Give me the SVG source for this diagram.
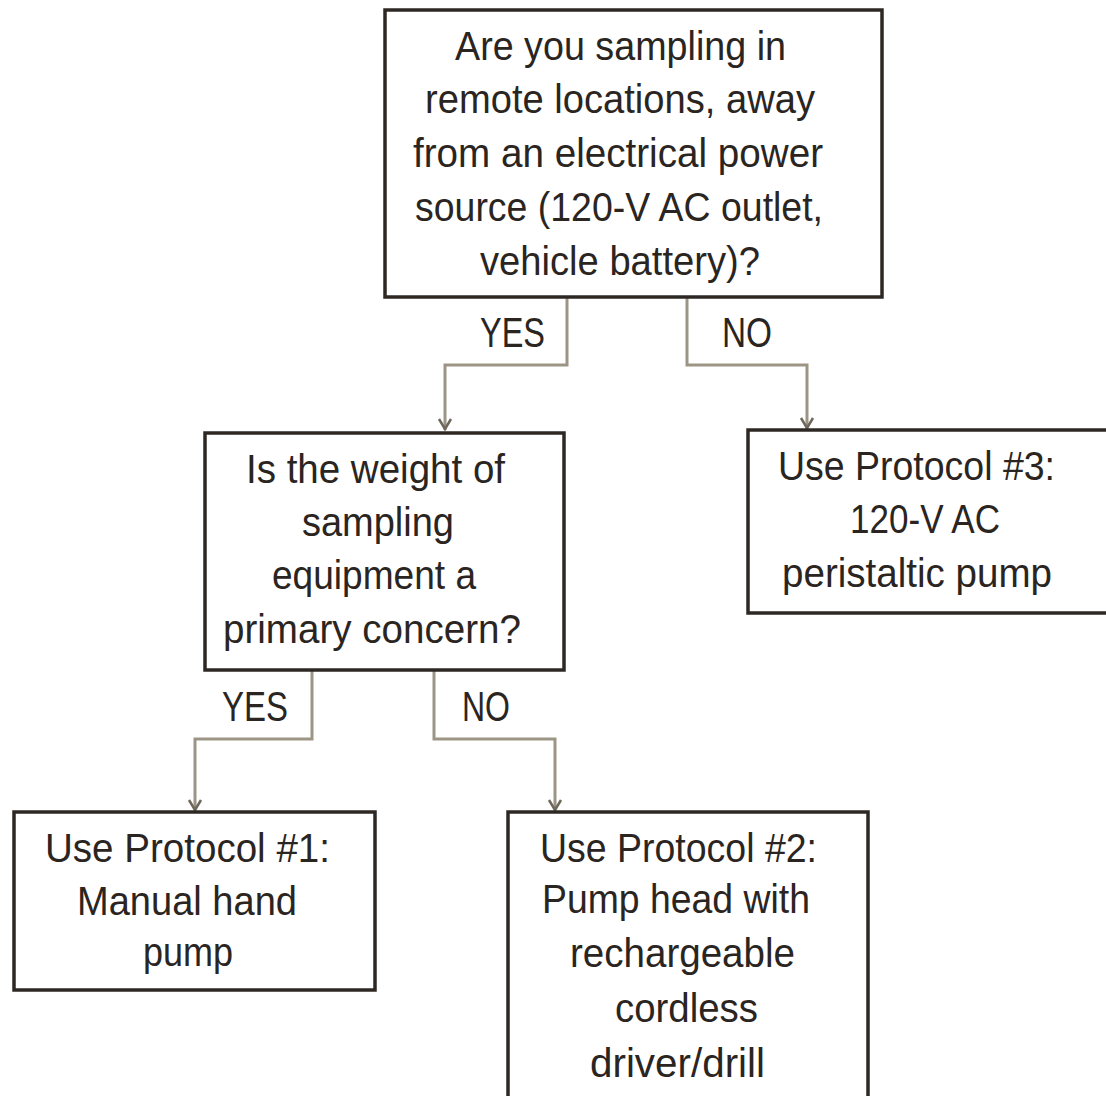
<svg xmlns="http://www.w3.org/2000/svg" width="1106" height="1096" viewBox="0 0 1106 1096">
  <style>
    .box { fill: #ffffff; stroke: #2e2825; stroke-width: 3.5; }
    .t { font-family: "Liberation Sans", Arial, sans-serif; font-size: 41px; fill: #2b2522; }
    .lbl { font-family: "Liberation Sans", Arial, sans-serif; font-size: 42px; fill: #2b2522; }
    .wire { fill: none; stroke: #9c9585; stroke-width: 3; marker-end: url(#arrow); }
  </style>
  <defs>
    <marker id="arrow" markerUnits="userSpaceOnUse" viewBox="-13 -8 15 16" refX="0" refY="0" markerWidth="15" markerHeight="16" orient="auto">
      <path d="M-11,-6 L-1,0 L-11,6" fill="none" stroke="#6e685c" stroke-width="2.5"/>
    </marker>
  </defs>
  <rect width="1106" height="1096" fill="#ffffff"/>

  <!-- connectors -->
  <g id="connectors">
    <path class="wire" d="M567,297 V365 H445 V430"/>
    <path class="wire" d="M687,297 V365 H807 V429"/>
    <path class="wire" d="M312,670 V739 H195 V811"/>
    <path class="wire" d="M434,670 V739 H555 V811"/>
    <text class="lbl" x="480" y="347" textLength="65" lengthAdjust="spacingAndGlyphs">YES</text>
    <text class="lbl" x="722" y="347" textLength="50" lengthAdjust="spacingAndGlyphs">NO</text>
    <text class="lbl" x="222" y="721" textLength="66" lengthAdjust="spacingAndGlyphs">YES</text>
    <text class="lbl" x="462" y="721" textLength="48" lengthAdjust="spacingAndGlyphs">NO</text>
  </g>

  <!-- question: remote locations -->
  <g id="q-remote">
    <rect class="box" x="385" y="10" width="497" height="287"/>
    <text class="t" x="455" y="60" textLength="331" lengthAdjust="spacingAndGlyphs">Are you sampling in</text>
    <text class="t" x="425" y="113" textLength="390" lengthAdjust="spacingAndGlyphs">remote locations, away</text>
    <text class="t" x="413" y="167" textLength="410" lengthAdjust="spacingAndGlyphs">from an electrical power</text>
    <text class="t" x="415" y="221" textLength="408" lengthAdjust="spacingAndGlyphs">source (120-V AC outlet,</text>
    <text class="t" x="480" y="275" textLength="280" lengthAdjust="spacingAndGlyphs">vehicle battery)?</text>
  </g>

  <!-- question: equipment weight -->
  <g id="q-weight">
    <rect class="box" x="205" y="433" width="359" height="237"/>
    <text class="t" x="246" y="483" textLength="259" lengthAdjust="spacingAndGlyphs">Is the weight of</text>
    <text class="t" x="302" y="536" textLength="152" lengthAdjust="spacingAndGlyphs">sampling</text>
    <text class="t" x="272" y="589" textLength="204" lengthAdjust="spacingAndGlyphs">equipment a</text>
    <text class="t" x="223" y="643" textLength="298" lengthAdjust="spacingAndGlyphs">primary concern?</text>
  </g>

  <!-- protocol 3 -->
  <g id="protocol-3">
    <rect class="box" x="748" y="430" width="380" height="183"/>
    <text class="t" x="778" y="480" textLength="277" lengthAdjust="spacingAndGlyphs">Use Protocol #3:</text>
    <text class="t" x="850" y="533" textLength="150" lengthAdjust="spacingAndGlyphs">120-V AC</text>
    <text class="t" x="782" y="587" textLength="270" lengthAdjust="spacingAndGlyphs">peristaltic pump</text>
  </g>

  <!-- protocol 1 -->
  <g id="protocol-1">
    <rect class="box" x="14" y="812" width="361" height="178"/>
    <text class="t" x="45" y="862" textLength="285" lengthAdjust="spacingAndGlyphs">Use Protocol #1:</text>
    <text class="t" x="77" y="915" textLength="220" lengthAdjust="spacingAndGlyphs">Manual hand</text>
    <text class="t" x="143" y="966" textLength="90" lengthAdjust="spacingAndGlyphs">pump</text>
  </g>

  <!-- protocol 2 -->
  <g id="protocol-2">
    <rect class="box" x="508" y="812" width="360" height="300"/>
    <text class="t" x="540" y="862" textLength="277" lengthAdjust="spacingAndGlyphs">Use Protocol #2:</text>
    <text class="t" x="542" y="913" textLength="268" lengthAdjust="spacingAndGlyphs">Pump head with</text>
    <text class="t" x="570" y="967" textLength="225" lengthAdjust="spacingAndGlyphs">rechargeable</text>
    <text class="t" x="615" y="1022" textLength="143" lengthAdjust="spacingAndGlyphs">cordless</text>
    <text class="t" x="590" y="1077" textLength="175" lengthAdjust="spacingAndGlyphs">driver/drill</text>
  </g>
</svg>
